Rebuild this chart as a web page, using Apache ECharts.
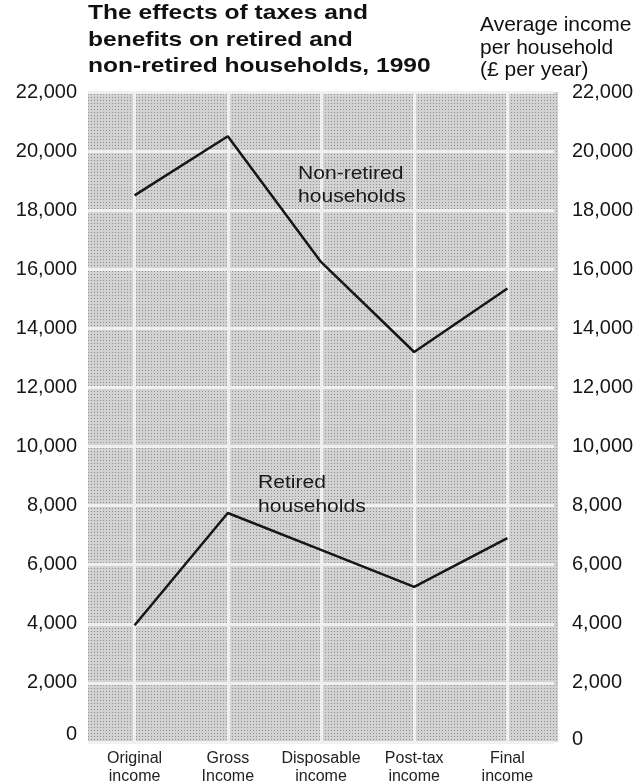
<!DOCTYPE html>
<html>
<head>
<meta charset="utf-8">
<script src="https://cdn.jsdelivr.net/npm/echarts@6/dist/echarts.min.js"></script>
<style>
  html, body { margin: 0; padding: 0; background: #ffffff; }
  #chart { width: 644px; height: 784px; }
</style>
</head>
<body>
<div id="chart"></div>
<script>
// Income stages along the horizontal axis
const categories = ['Original\nincome', 'Gross\nIncome', 'Disposable\nincome', 'Post-tax\nincome', 'Final\nincome'];

// Average income per household, £ per year
const nonRetired = [18500, 20500, 16250, 13200, 15350];
const retired = [3950, 7750, 6500, 5250, 6900];

// Value axis range and step
const yMin = 0;
const yMax = 22000;
const yStep = 2000;

// Headings
const titleLines = ['The effects of taxes and', 'benefits on retired and', 'non-retired households, 1990'];
const unitLines = ['Average income', 'per household', '(£ per year)'];
const nonRetiredLabel = ['Non-retired', 'households'];
const retiredLabel = ['Retired', 'households'];

const SANS = '"Liberation Sans", Arial, Helvetica, sans-serif';
const INK = '#161616';

function withCommas(v) {
  return String(v).replace(/\B(?=(\d{3})+(?!\d))/g, ',');
}

// The zero label sits a little above the baseline
function tickLabel(v) {
  return v === 0 ? '{zero|0}' : withCommas(v);
}

// Small dot screen used to shade the plotting area
function dotScreen() {
  const c = document.createElement('canvas');
  c.width = 3; c.height = 3;
  const g = c.getContext('2d');
  g.fillStyle = '#d2d2d2';
  g.fillRect(0, 0, 3, 3);
  g.fillStyle = '#909090';
  g.fillRect(1, 1, 1, 1);
  return c;
}

const chart = echarts.init(document.getElementById('chart'), null, { renderer: 'canvas' });

const lineBase = {
  type: 'line',
  symbol: 'none',
  smooth: false,
  z: 3,
  lineStyle: { color: INK, width: 2.5 },
  emphasis: { disabled: true }
};

function valueAxis(position, margin, zeroLift, showSplit) {
  return {
    type: 'value',
    position: position,
    min: yMin, max: yMax, interval: yStep,
    axisLine: { show: false },
    axisTick: { show: false },
    splitLine: { show: showSplit, lineStyle: { color: '#f0f0f0', width: 3 } },
    axisLabel: {
      fontFamily: SANS, fontSize: 20, color: INK, margin: margin,
      formatter: tickLabel,
      rich: {
        zero: {
          fontFamily: SANS, fontSize: 20, color: INK,
          padding: [0, 0, zeroLift, 0]
        }
      }
    }
  };
}

chart.setOption({
  animation: false,
  backgroundColor: '#ffffff',
  grid: {
    left: 88, right: 90, top: 92, bottom: 42,
    containLabel: false,
    outerBoundsMode: 'none'
  },
  graphic: [
    {
      type: 'rect',
      z: -10,
      silent: true,
      shape: { x: 88, y: 92, width: 470, height: 650 },
      style: { fill: { image: dotScreen(), repeat: 'repeat' } }
    },
    {
      type: 'text',
      x: 88, y: 0,
      scaleX: 1.17,
      z: 20,
      silent: true,
      style: {
        text: titleLines.join('\n'),
        fontFamily: SANS, fontWeight: 'bold', fontSize: 21,
        lineHeight: 26.5, fill: '#111111'
      }
    },
    {
      type: 'text',
      x: 480, y: 14,
      z: 20,
      silent: true,
      style: {
        text: unitLines.join('\n'),
        fontFamily: SANS, fontSize: 21,
        lineHeight: 22.5, fill: '#111111'
      }
    },
    {
      type: 'text',
      x: 298, y: 163,
      scaleX: 1.17,
      z: 20,
      silent: true,
      style: {
        text: nonRetiredLabel.join('\n'),
        fontFamily: SANS, fontSize: 18,
        lineHeight: 23, fill: '#1a1a1a'
      }
    },
    {
      type: 'text',
      x: 258, y: 471,
      scaleX: 1.17,
      z: 20,
      silent: true,
      style: {
        text: retiredLabel.join('\n'),
        fontFamily: SANS, fontSize: 18,
        lineHeight: 24, fill: '#1a1a1a'
      }
    }
  ],
  xAxis: {
    type: 'category',
    data: categories,
    boundaryGap: true,
    axisLine: { show: false },
    axisTick: { show: false },
    splitLine: { show: false },
    axisLabel: {
      fontFamily: SANS, fontSize: 16, lineHeight: 18.5,
      color: '#222222', margin: 7, interval: 0
    }
  },
  yAxis: [
    valueAxis('left', 11, 16, true),
    valueAxis('right', 18, 6, false)
  ],
  series: [
    Object.assign({}, lineBase, {
      name: 'Non-retired households',
      data: nonRetired,
      markLine: {
        silent: true,
        z: 1,
        symbol: ['none', 'none'],
        label: { show: false },
        emphasis: { disabled: true },
        lineStyle: { color: '#f0f0f0', width: 3, type: 'solid' },
        data: categories.map(c => ({ xAxis: c }))
      }
    }),
    Object.assign({}, lineBase, {
      name: 'Retired households',
      data: retired
    })
  ]
});
</script>
</body>
</html>
